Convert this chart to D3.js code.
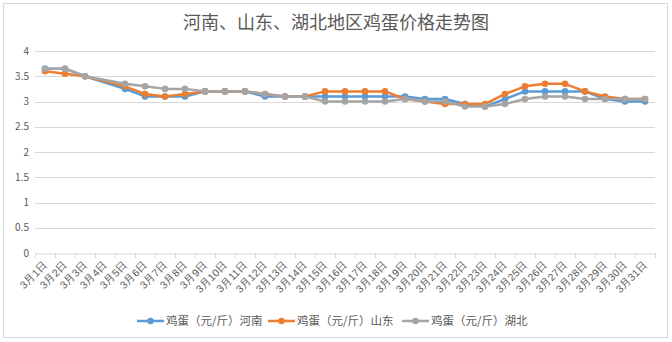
<!DOCTYPE html>
<html><head><meta charset="utf-8">
<script src="https://cdn.jsdelivr.net/npm/d3@7"></script>
<style>
html,body{margin:0;padding:0;background:#fff;}
svg{display:block;font-family:"Noto Sans CJK SC","Noto Sans",sans-serif;}
</style></head>
<body>
<svg id="chart" width="672" height="342"></svg>
<script>
const title = "河南、山东、湖北地区鸡蛋价格走势图";
const categories = ["3月1日","3月2日","3月3日","3月4日","3月5日","3月6日","3月7日","3月8日","3月9日","3月10日","3月11日","3月12日","3月13日","3月14日","3月15日","3月16日","3月17日","3月18日","3月19日","3月20日","3月21日","3月22日","3月23日","3月24日","3月25日","3月26日","3月27日","3月28日","3月29日","3月30日","3月31日"];
const henan  = [3.65,3.65,3.5,null,3.25,3.1,3.1,3.1,3.2,3.2,3.2,3.1,3.1,3.1,3.1,3.1,3.1,3.1,3.1,3.05,3.05,2.95,2.9,3.05,3.2,3.2,3.2,3.2,3.05,3.0,3.0];
const shandong = [3.6,3.55,3.5,null,3.3,3.15,3.1,3.15,3.2,3.2,3.2,3.15,3.1,3.1,3.2,3.2,3.2,3.2,3.05,3.0,2.95,2.95,2.95,3.15,3.3,3.35,3.35,3.2,3.1,3.05,3.05];
const hubei  = [3.65,3.65,3.5,null,3.35,3.3,3.25,3.25,3.2,3.2,3.2,3.15,3.1,3.1,3.0,3.0,3.0,3.0,3.05,3.0,3.0,2.9,2.9,2.95,3.05,3.1,3.1,3.05,3.05,3.05,3.05];
const seriesNames = ["鸡蛋（元/斤）河南","鸡蛋（元/斤）山东","鸡蛋（元/斤）湖北"];
const seriesColors = ["#5B9BD5","#ED7D31","#A5A5A5"];
const yTicks = [0,0.5,1,1.5,2,2.5,3,3.5,4];

const series = [henan, shandong, hubei].map((vals,i)=>({name:seriesNames[i], color:seriesColors[i], values:vals}));

const svg = d3.select("#chart");
const W = 672, H = 342;
const m = {left:35, right:17, top:51, bottom:89};

svg.append("rect").attr("x",3.5).attr("y",3.5).attr("width",W-8).attr("height",H-8)
  .attr("fill","#fff").attr("stroke","#d9d9d9").attr("stroke-width",1);

svg.append("text").attr("x",336).attr("y",29).attr("text-anchor","middle")
  .attr("font-size",18).attr("fill","#595959").text(title);

const x = d3.scaleBand().domain(categories).range([m.left, W-m.right]).padding(0);
const y = d3.scaleLinear().domain([0,4]).range([H-m.bottom, m.top]);

// gridlines
svg.append("g").selectAll("line").data(yTicks.filter(d=>d>0)).join("line")
  .attr("x1",m.left).attr("x2",W-m.right)
  .attr("y1",d=>Math.round(y(d))+0.5).attr("y2",d=>Math.round(y(d))+0.5)
  .attr("stroke","#d9d9d9").attr("stroke-width",1);

// y axis labels
const yAxis = d3.axisLeft(y).tickValues(yTicks).tickSize(0).tickPadding(6).tickFormat(d3.format("~g"));
const gy = svg.append("g").attr("transform",`translate(${m.left},0)`).call(yAxis);
gy.select(".domain").remove();
gy.selectAll("text").attr("font-size",10).attr("fill","#595959").attr("font-family","Noto Sans CJK SC, sans-serif");

// x axis
const xAxis = d3.axisBottom(x).tickSize(0).tickFormat(d=>d);
const gx = svg.append("g").attr("transform",`translate(0,${Math.round(y(0))+0.5})`).call(xAxis);
gx.select(".domain").attr("stroke","#d9d9d9");
gx.selectAll("text").attr("font-size",10.5).attr("fill","#595959")
  .attr("text-anchor","end").attr("dy",0).attr("dx",0)
  .attr("transform","translate(1,10) rotate(-45)");
// boundary tick marks
const bounds = categories.map(c=>x(c)).concat([W-m.right]);
svg.append("g").selectAll("line").data(bounds).join("line")
  .attr("x1",d=>Math.round(d)+0.5).attr("x2",d=>Math.round(d)+0.5)
  .attr("y1",Math.round(y(0))).attr("y2",Math.round(y(0))+5)
  .attr("stroke","#d9d9d9");

// lines
const cx = c => x(c) + x.bandwidth()/2;
const line = d3.line().x(d=>cx(d.c)).y(d=>y(d.v));
series.forEach(s=>{
  const pts = categories.map((c,i)=>({c, v:s.values[i]})).filter(d=>d.v!=null);
  const g = svg.append("g");
  g.append("path").datum(pts).attr("d",line).attr("fill","none")
    .attr("stroke",s.color).attr("stroke-width",2.5).attr("stroke-linejoin","round").attr("stroke-linecap","round");
  g.selectAll("circle").data(pts).join("circle")
    .attr("cx",d=>cx(d.c)).attr("cy",d=>y(d.v)).attr("r",3.3).attr("fill",s.color);
});

// legend
const legX = [137, 268, 402];
const leg = svg.append("g");
series.forEach((s,i)=>{
  const g = leg.append("g").attr("transform",`translate(${legX[i]},321)`);
  g.append("line").attr("x1",0).attr("x2",27).attr("y1",0).attr("y2",0).attr("stroke",s.color).attr("stroke-width",2.5);
  g.append("circle").attr("cx",13.5).attr("cy",0).attr("r",3.3).attr("fill",s.color);
  g.append("text").attr("x",29).attr("y",4).attr("font-size",11.5).attr("fill","#595959").text(s.name);
});
</script>
</body></html>
